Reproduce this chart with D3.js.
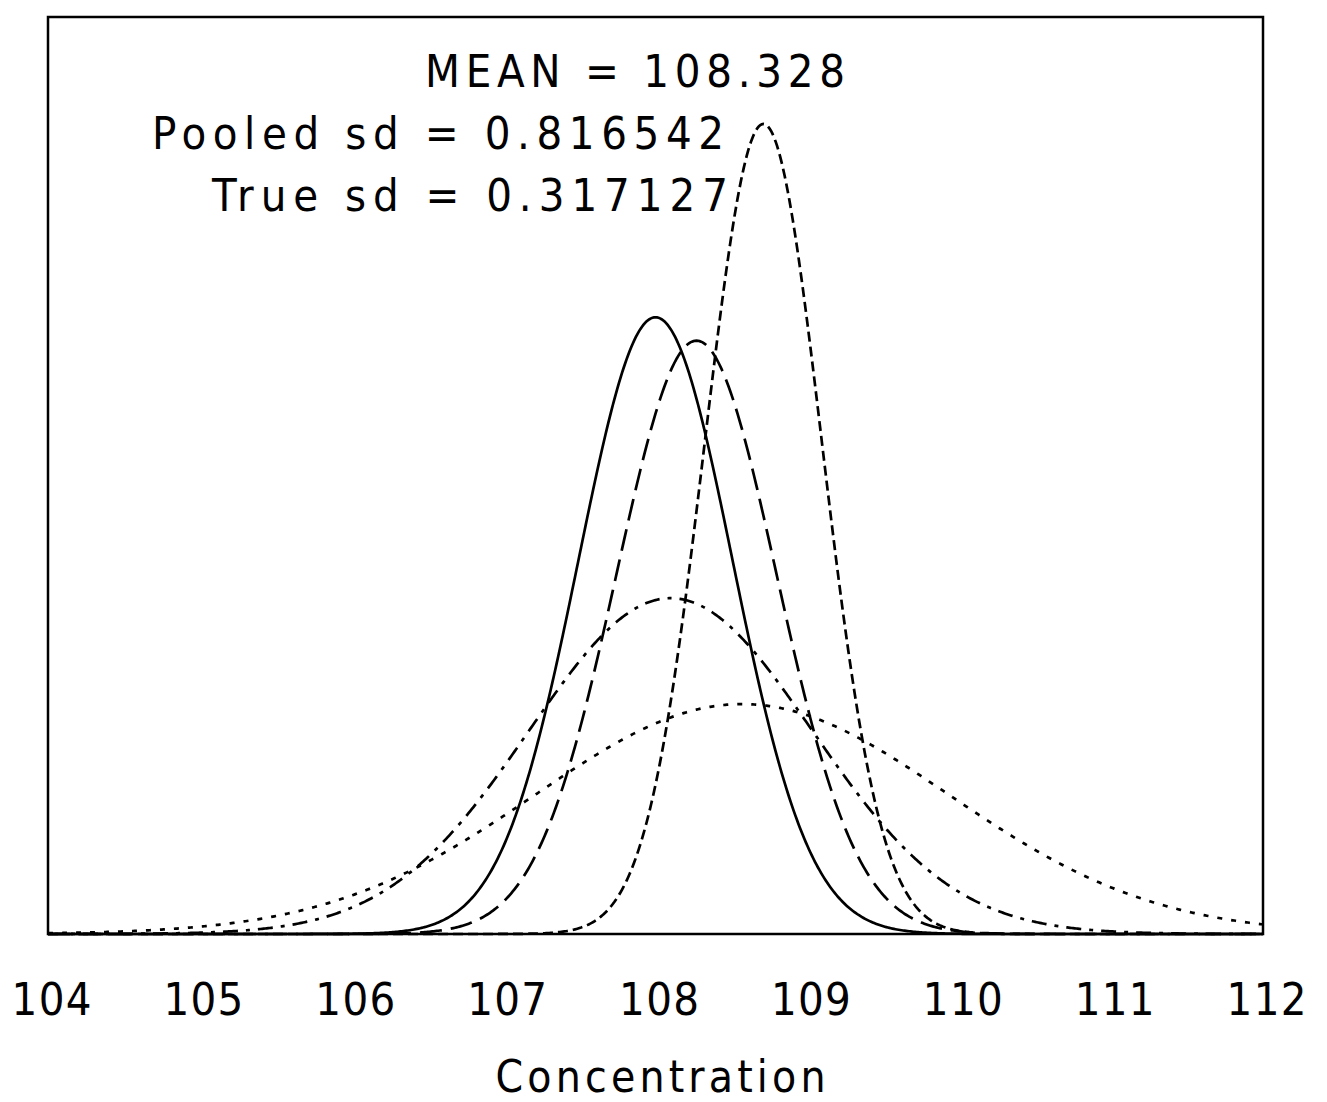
<!DOCTYPE html>
<html>
<head>
<meta charset="utf-8">
<script src="https://cdn.jsdelivr.net/npm/d3@7"></script>
<style>
  body { margin: 0; background: #fff; }
  text { font-family: "DejaVu Sans", "Liberation Sans", sans-serif; font-stretch: condensed; fill: #000; }
</style>
</head>
<body>
<div id="chart"></div>
<script>
// five groups: mean and sd of each normal curve
const groups = ["A", "B", "C", "D", "E"];
const means = [108.0, 108.27, 108.71, 108.10, 108.57];
const sds = [0.507, 0.527, 0.386, 0.931, 1.36];
const dashes = ["none", "22,9", "10,5", "15,8,4,8", "5,9"];
const xTicks = [104, 105, 106, 107, 108, 109, 110, 111, 112];
const statLines = ["MEAN = 108.328", "Pooled sd = 0.816542", "True sd = 0.317127"];

const W = 1327, H = 1102;
const margin = { top: 17, right: 64, bottom: 168, left: 48 },
      width = W - margin.left - margin.right,
      height = H - margin.top - margin.bottom;

const svg = d3.select("#chart")
    .append("svg")
    .attr("width", W)
    .attr("height", H)
    .append("g")
    .attr("transform", `translate(${margin.left},${margin.top})`);

const x = d3.scaleLinear().domain([104, 112]).range([0, width]);
const y = d3.scaleLinear().domain([0, 1.17]).range([height, 0]);

const dnorm = (v, m, s) => Math.exp(-0.5 * ((v - m) / s) ** 2) / (s * Math.sqrt(2 * Math.PI));
const grid = d3.range(104, 112.0001, 0.01);

const line = d3.line()
    .x(d => x(d[0]))
    .y(d => y(d[1]));

svg.selectAll(".curve")
    .data(groups)
    .join("path")
    .attr("class", "curve")
    .attr("d", (g, i) => line(grid.map(v => [v, dnorm(v, means[i], sds[i])])))
    .attr("fill", "none")
    .attr("stroke", "#000")
    .attr("stroke-width", 2.7)
    .attr("stroke-dasharray", (g, i) => dashes[i]);

// frame
svg.append("rect")
    .attr("x", 0).attr("y", 0)
    .attr("width", width).attr("height", height)
    .attr("fill", "none")
    .attr("stroke", "#000")
    .attr("stroke-width", 2.5);

const xAxis = svg.append("g")
    .attr("transform", `translate(0,${height})`)
    .call(d3.axisBottom(x).tickValues(xTicks).tickSize(0).tickPadding(0).tickFormat(d3.format("d")));
xAxis.select(".domain").remove();
xAxis.selectAll("text")
    .attr("y", 0)
    .attr("dy", 0)
    .attr("transform", "translate(3,81)")
    .attr("font-size", 45)
    .attr("textLength", 80)
    .attr("lengthAdjust", "spacing")
    .style("font-family", null);

svg.append("text")
    .attr("x", x(108) + 5)
    .attr("y", 1092 - margin.top)
    .attr("text-anchor", "middle")
    .attr("font-size", 44)
    .attr("textLength", 330)
    .attr("lengthAdjust", "spacing")
    .text("Concentration");

const statPos = [
    { x: 425, y: 87, len: 420 },
    { x: 152, y: 149, len: 572 },
    { x: 212, y: 211, len: 516 }
];
svg.selectAll(".stat")
    .data(statLines)
    .join("text")
    .attr("class", "stat")
    .attr("x", (d, i) => statPos[i].x - margin.left)
    .attr("y", (d, i) => statPos[i].y - margin.top)
    .attr("font-size", 45)
    .attr("textLength", (d, i) => statPos[i].len)
    .attr("lengthAdjust", "spacing")
    .text(d => d);
</script>
</body>
</html>
